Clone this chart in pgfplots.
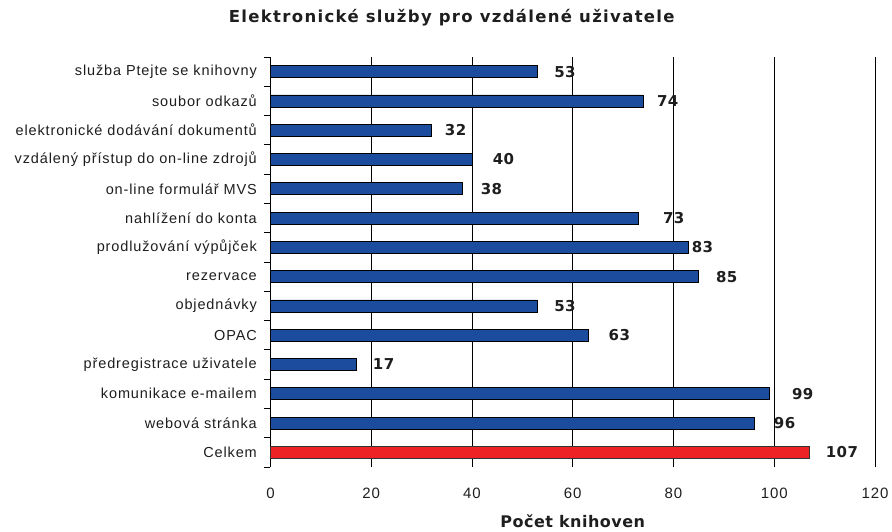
\documentclass[border=0pt]{standalone}
\usepackage{fontspec}
\usepackage{pgfplots}
\pgfplotsset{compat=1.18}
\setmainfont{Liberation Sans}
\newfontfamily\catfont[LetterSpace=6]{Liberation Sans}
\newfontfamily\valfont[LetterSpace=3]{DejaVu Sans}
\newfontfamily\titfont[LetterSpace=8]{DejaVu Sans}
\definecolor{barblue}{RGB}{28,76,158}
\definecolor{barred}{RGB}{236,34,36}
\definecolor{txt}{RGB}{30,30,30}

\begin{document}
\begin{tikzpicture}
\path[use as bounding box] (0,0) rectangle (892pt,531pt);
\begin{axis}[
    at={(270.5pt,64pt)}, anchor=south west,
    scale only axis,
    width=604.5pt, height=410pt,
    xmin=0, xmax=120,
    ymin=-0.5, ymax=13.5,
    xtick={0,20,...,120},
    ytick={0,...,13},
    yticklabels={Celkem, webová stránka, komunikace e-mailem, předregistrace uživatele, OPAC, objednávky, rezervace, prodlužování výpůjček, nahlížení do konta, on-line formulář MVS, vzdálený přístup do on-line zdrojů, elektronické dodávání dokumentů, soubor odkazů, služba Ptejte se knihovny},
    minor ytick={-0.5,0.5,...,13.5},
    axis lines*=left,
    x axis line style={draw=none},
    y axis line style={black, line width=0.9pt},
    tick align=outside,
    major tick length=0pt,
    minor tick length=6pt,
    minor tick style={black, line width=0.9pt},
    xmajorgrids,
    major grid style={black, line width=0.9pt},
    /pgf/number format/assume math mode=true,
    xticklabel style={font=\catfont\fontsize{15}{18}\selectfont, text=txt, anchor=center, yshift=-26pt},
    yticklabel style={font=\catfont\fontsize{14.5}{17}\selectfont, text=txt, anchor=east, inner sep=0pt, xshift=-13.5pt},
    title={Elektronické služby pro vzdálené uživatele},
    title style={font=\titfont\bfseries\fontsize{16.5}{19}\selectfont, text=txt, at={(0.5,1)}, anchor=center, xshift=-121pt, yshift=33pt},
    xlabel={Počet knihoven},
    xlabel style={font=\valfont\bfseries\fontsize{16}{18}\selectfont, text=txt, at={(0.5,0)}, anchor=base, yshift=-60pt},
    clip=false,
]

% bars
\addplot[xbar, bar width=12pt, bar shift=0pt, fill=barblue, draw=black, line width=0.7pt]
    coordinates {
        (96,1) (99,2) (17,3) (63,4) (53,5) (85,6) (83,7)
        (73,8) (38,9) (40,10) (32,11) (74,12) (53,13)
    };
\addplot[xbar, bar width=12pt, bar shift=0pt, fill=barred, draw=black!80, line width=0.7pt]
    coordinates {(107,0)};

% value labels (left edge of each label in axis units)
\addplot[only marks, mark=none, nodes near coords, point meta=explicit symbolic,
    nodes near coords style={anchor=west, inner sep=0pt, text=txt, font=\valfont\bfseries\fontsize{15}{17}\selectfont}]
    table[meta=lab] {
x     y   lab
110.2 0   107
99.9  1   96
103.5 2   99
20.3  3   17
67.1  4   63
56.3  5   53
88.4  6   85
83.6  7   83
77.9  8   73
41.7  9   38
44.1  10  40
34.6  11  32
76.7  12  74
56.3  13  53
};

\end{axis}
\end{tikzpicture}
\end{document}
